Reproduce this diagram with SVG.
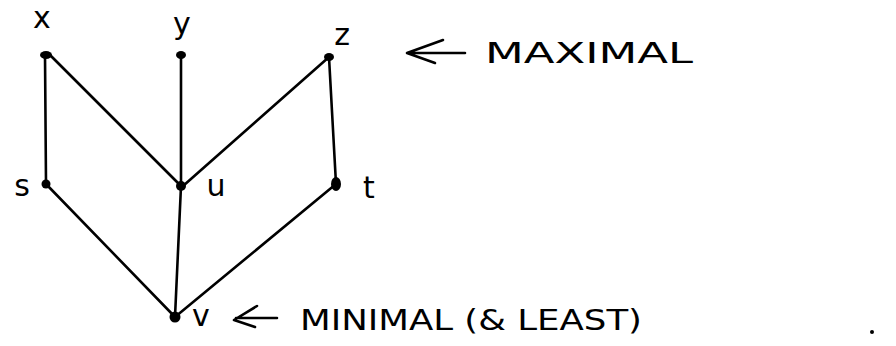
<svg xmlns="http://www.w3.org/2000/svg" width="896" height="346" viewBox="0 0 896 346">
<style>
.e{stroke:#000;stroke-width:2.6;stroke-linecap:round;fill:none}
.n{fill:#000}
.l{font-family:"DejaVu Sans",sans-serif;font-size:30px;fill:#000}
.c{font-family:"DejaVu Sans",sans-serif;font-size:28px;fill:#000}
.a{stroke:#000;stroke-width:2.6;fill:none;stroke-linecap:round;stroke-linejoin:round}
</style>
<rect width="896" height="346" fill="#fff"/>
<g id="edges">
<line class="e" x1="45" y1="55" x2="46" y2="184"/>
<line class="e" x1="50" y1="55" x2="181" y2="186"/>
<line class="e" x1="181" y1="55" x2="181" y2="186"/>
<line class="e" x1="329" y1="57" x2="183" y2="186"/>
<line class="e" x1="329" y1="57" x2="336" y2="184"/>
<line class="e" x1="46" y1="184" x2="175" y2="317"/>
<line class="e" x1="181" y1="186" x2="175" y2="317"/>
<line class="e" x1="336" y1="184" x2="175" y2="317"/>
</g>
<g id="node-x"><ellipse class="n" cx="46" cy="55" rx="6" ry="4"/><text class="l" x="42" y="28" text-anchor="middle">x</text></g>
<g id="node-y"><ellipse class="n" cx="181" cy="55" rx="5" ry="4"/><text class="l" x="182" y="34" text-anchor="middle">y</text></g>
<g id="node-z"><ellipse class="n" cx="329" cy="57" rx="5" ry="4"/><text class="l" x="342" y="45" text-anchor="middle">z</text></g>
<g id="node-s"><circle class="n" cx="46" cy="184" r="4.5"/><text class="l" x="22" y="196" text-anchor="middle">s</text></g>
<g id="node-u"><circle class="n" cx="181" cy="186" r="5"/><text class="l" x="216" y="196" text-anchor="middle">u</text></g>
<g id="node-t"><ellipse class="n" cx="336" cy="184" rx="5" ry="7"/><text class="l" x="369" y="198" text-anchor="middle">t</text></g>
<g id="node-v"><circle class="n" cx="175" cy="317" r="5.5"/><text class="l" x="201" y="326" text-anchor="middle">v</text></g>
<g id="note-max">
<path class="a" d="M465,53 H410 M443,40 L407,53 L435,63"/>
<text class="c" x="485" y="63" textLength="208" lengthAdjust="spacingAndGlyphs">MAXIMAL</text>
</g>
<g id="note-min">
<path class="a" d="M277,318 H236 M257,306 L234,320 L255,327"/>
<text class="c" x="300" y="330" textLength="342" lengthAdjust="spacingAndGlyphs">MINIMAL (&amp; LEAST)</text>
<circle class="n" cx="872" cy="332" r="2"/>
</g>
</svg>
